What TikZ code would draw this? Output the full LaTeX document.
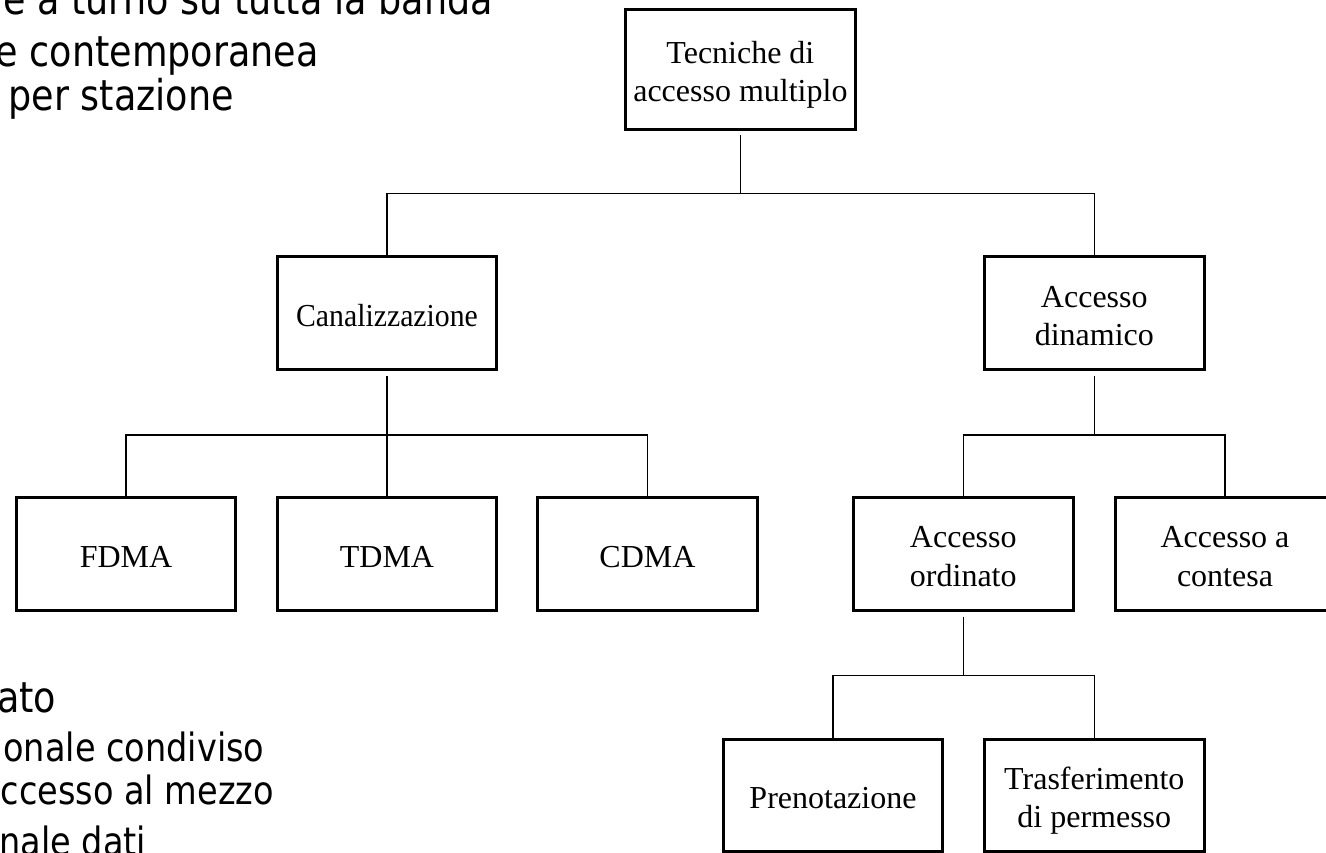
\documentclass[tikz,border=0pt]{standalone}
\usepackage{fontspec}
\usepackage{graphicx}
\setmainfont{Liberation Serif}
\newfontfamily\slidefont{DejaVu Sans}[FakeStretch=0.86]
\usetikzlibrary{calc}

% fixed first-line height and last-line depth inside the boxes
\newcommand\hstrut{\rule{0pt}{33pt}}
\newcommand\dstrut{\rule[-7pt]{0pt}{7pt}}

\begin{document}
\begin{tikzpicture}[x=1pt,y=-1pt,
  box/.style={draw, line width=3pt, rectangle, inner sep=0pt,
    minimum width=219.5pt, minimum height=112.7pt, align=center,
    font=\fontsize{32}{38.6}\selectfont},
  link/.style={line width=1.5pt},
  slide/.style={anchor=base east, inner sep=0pt,
    font=\slidefont\fontsize{42.5}{50}\selectfont},
  subslide/.style={slide, font=\slidefont\fontsize{39}{46}\selectfont}]
\useasboundingbox (0,0) rectangle (1326,852);
\clip (0,0) rectangle (1326,852);
\fill[white] (0,0) rectangle (1326,852);

% bullet text of the slide, running off the left edge
\node[slide] (s1) at (493,14) {e a turno su tutta la banda};
\node[slide] (s2) at (319,66.7) {e contemporanea};
\node[slide] (s3) at (234,110.7) {per stazione};
\node[slide] (s4) at (56.5,712.7) {ato};
\node[subslide] (s5) at (264.5,761) {onale condiviso};
\node[subslide] (s6) at (274,804.3) {ccesso al mezzo};
\node[subslide] (s7) at (146.5,855) {nale dati};

% tree of multiple access techniques
\node[box, minimum width=230.3pt, minimum height=119.4pt] (top) at (740.4,69.5)
  {\hstrut Tecniche di\\accesso multiplo\dstrut};
\node[box] (canal) at (387,313.3) {\hstrut\scalebox{0.93}[1]{Canalizzazione}\dstrut};
\node[box] (dinam) at (1094.3,313.3) {\hstrut Accesso\\dinamico\dstrut};
\node[box] (fdma) at (126,554.2) {\hstrut FDMA\dstrut};
\node[box] (tdma) at (387,554.2) {\hstrut TDMA\dstrut};
\node[box] (cdma) at (647.5,554.2) {\hstrut CDMA\dstrut};
\node[box] (ordin) at (963.3,554.2) {\hstrut Accesso\\ordinato\dstrut};
\node[box] (contesa) at (1225,554.2) {\hstrut Accesso a\\contesa\dstrut};
\node[box] (preno) at (833,795.5) {\hstrut Prenotazione\dstrut};
\node[box] (trasf) at (1094.3,795.5) {\hstrut Trasferimento\\di permesso\dstrut};

% junctions of the connectors
\coordinate (j1) at (740.4,193.5);
\coordinate (j2) at (387,435);
\coordinate (j3) at (1094.3,435);
\coordinate (j4) at (963.3,675.3);

\draw[link, shorten <=4.5pt] (top.south) -- (j1);
\draw[link] (canal.north) |- (j1) -| (dinam.north);

\draw[link, shorten <=4.5pt] (canal.south) -- (j2);
\draw[link] (j2) -- (tdma.north);
\draw[link] (fdma.north) |- (j2) -| (cdma.north);

\draw[link, shorten <=4.5pt] (dinam.south) -- (j3);
\draw[link] (ordin.north) |- (j3) -| (contesa.north);

\draw[link, shorten <=4.5pt] (ordin.south) -- (j4);
\draw[link] (preno.north) |- (j4) -| (trasf.north);
\end{tikzpicture}
\end{document}
